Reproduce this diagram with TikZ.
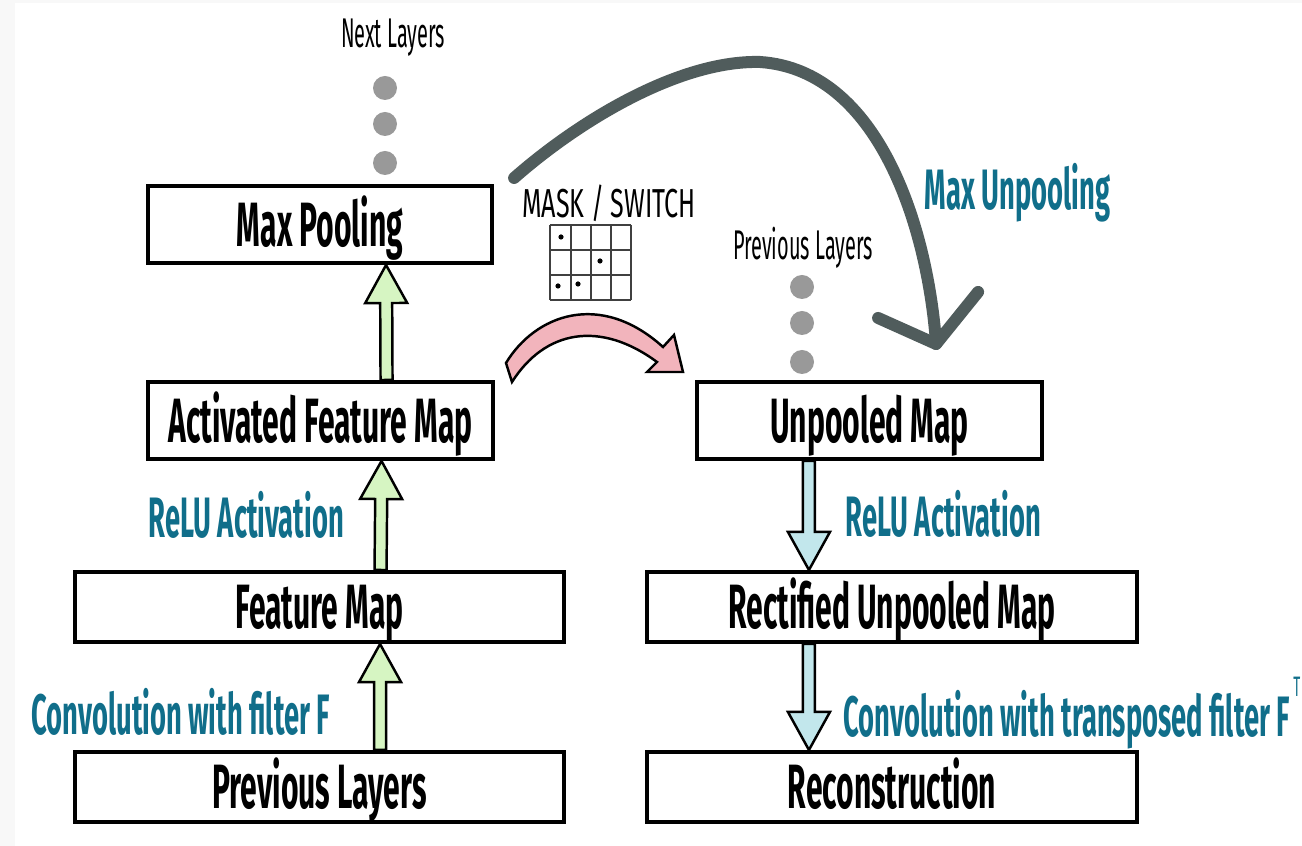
\documentclass[tikz,border=0pt]{standalone}
\usepackage{fontspec}
\setmainfont[FakeStretch=0.48]{Fira Sans}
\usetikzlibrary{calc}

\definecolor{labelteal}{RGB}{16,110,138}
\definecolor{upgreen}{RGB}{214,245,194}
\definecolor{downblue}{RGB}{194,231,236}
\definecolor{maskpink}{RGB}{242,180,188}
\definecolor{unpoolgray}{RGB}{80,92,92}
\definecolor{dotgray}{RGB}{153,153,153}
\definecolor{pagegray}{RGB}{248,248,248}

\tikzset{
  layerbox/.style={draw, line width=0.04cm, inner sep=0pt, text height=0.43cm, text depth=0pt,
    font=\fontsize{17.8}{18}\selectfont\bfseries},
  steplabel/.style={anchor=base west, inner sep=0pt, text=labelteal,
    font=\fontsize{16.2}{17}\selectfont\bfseries},
  smalllabel/.style={anchor=base, inner sep=0pt, font=\fontsize{11.8}{12}\selectfont},
  fatarrow/.style={draw, line width=0.7pt, line join=miter},
  maskgrid/.style={draw=black!75, line width=0.45pt},
}

% fat block arrow from #1 to #2, filled with #3
\newcommand{\fatarrow}[3]{%
  \draw[fatarrow, fill=#3] ($(#1)!0.06cm!90:(#2)$)
    -- ($(#2)!0.38cm!(#1)!0.06cm!-90:(#1)$)
    -- ($(#2)!0.38cm!(#1)!0.21cm!-90:(#1)$)
    -- (#2)
    -- ($(#2)!0.38cm!(#1)!0.21cm!90:(#1)$)
    -- ($(#2)!0.38cm!(#1)!0.06cm!90:(#1)$)
    -- ($(#1)!0.06cm!-90:(#2)$) -- cycle;}

\begin{document}
\begin{tikzpicture}[x=0.01cm, y=-0.01cm]
    \useasboundingbox (0,0) rectangle (1302,846);
    \fill[pagegray] (0,0) rectangle (1302,846);
    \fill[white] (15,3) rectangle (1302,846);

    % Forward pass (left column)
    \node[layerbox, minimum width=3.44cm, minimum height=0.77cm] (maxpool) at (320,224.5) {Max Pooling};
    \node[layerbox, minimum width=3.45cm, minimum height=0.77cm] (actmap) at (320.5,420.5) {Activated Feature Map};
    \node[layerbox, minimum width=4.89cm, minimum height=0.70cm] (featmap) at (319.5,607) {Feature Map};
    \node[layerbox, minimum width=4.89cm, minimum height=0.70cm] (prevleft) at (319.5,787) {Previous Layers};

    % Backward pass (right column)
    \node[layerbox, minimum width=3.45cm, minimum height=0.77cm] (unpool) at (869.5,420.5) {Unpooled Map};
    \node[layerbox, minimum width=4.90cm, minimum height=0.70cm] (rectmap) at (892,607) {Rectified Unpooled Map};
    \node[layerbox, minimum width=4.90cm, minimum height=0.70cm] (recon) at (892,787) {Reconstruction};

    % Step labels
    \node[steplabel] (relu1) at (148,538) {ReLU Activation};
    \node[steplabel] (conv1) at (31,735) {Convolution with filter F};
    \node[steplabel] (relu2) at (845,537) {ReLU Activation};
    \node[steplabel] (conv2) at (843,737) {Convolution with transposed filter F\kern1pt\raisebox{0.4cm}{\fontsize{8}{8}\selectfont\mdseries T}};
    \node[steplabel] (maxunpool) at (924,210) {Max Unpooling};

    % Layers above and below
    \node[smalllabel] (nextlayers) at (393,48) {Next Layers};
    \node[smalllabel] (prevlayers) at (803,260) {Previous Layers};
    \foreach \y in {88,124,163} \fill[dotgray] (385,\y) circle (12);
    \foreach \y in {287,323,362} \fill[dotgray] (802,\y) circle (12);

    % Switches of the pooling
    \node[smalllabel, font=\fontsize{11.5}{12}\selectfont\addfontfeature{FakeStretch=0.62}] (mask) at (609,218) {MASK / SWITCH};
    \foreach \gx in {550,571,591,611,631} \draw[maskgrid] (\gx,225) -- (\gx,300);
    \foreach \gy in {225,250,275,300} \draw[maskgrid] (550,\gy) -- (631,\gy);
    \foreach \p in {(561,237),(600,261),(558,286),(578,284)} \fill \p circle (2.6);

    % Block arrows
    \coordinate (up1a) at ([xshift=0.66cm]actmap.north);
    \coordinate (up1b) at ([xshift=0.66cm]maxpool.south);
    \coordinate (up2a) at ([xshift=0.61cm]featmap.north);
    \coordinate (up2b) at ([xshift=0.61cm]actmap.south);
    \coordinate (up3a) at ([xshift=0.605cm]prevleft.north);
    \coordinate (up3b) at ([xshift=0.605cm]featmap.south);
    \coordinate (dn1a) at ([xshift=-0.605cm]unpool.south);
    \coordinate (dn1b) at ([xshift=-0.83cm]rectmap.north);
    \coordinate (dn2a) at ([xshift=-0.83cm]rectmap.south);
    \coordinate (dn2b) at ([xshift=-0.83cm]recon.north);
    \fatarrow{up1a}{up1b}{upgreen}
    \fatarrow{up2a}{up2b}{upgreen}
    \fatarrow{up3a}{up3b}{upgreen}
    \fatarrow{dn1a}{dn1b}{downblue}
    \fatarrow{dn2a}{dn2b}{downblue}

    % Pink arrow: switches carried over
    \draw[fatarrow, fill=maskpink] (506,363) .. controls (535,315) and (600,290) .. (663,347)
      -- (674,335) -- (683,372) -- (647,372) -- (657,362)
      .. controls (600,320) and (545,330) .. (512,382) -- cycle;

    % Max unpooling arrow
    \coordinate (unpoolfrom) at ([shift={(20,-6)}]maxpool.north east);
    \coordinate (unpoolto) at ([shift={(-108,-36)}]unpool.north east);
    \draw[unpoolgray, line width=0.12cm, line cap=round, line join=round]
      (unpoolfrom) .. controls (580,120) and (680,60) .. (760,62)
      .. controls (880,70) and (928,230) .. (unpoolto);
    \draw[unpoolgray, line width=0.12cm, line cap=round, line join=round]
      ([shift={(-58,-26)}]unpoolto) -- (unpoolto) -- ([shift={(42,-52)}]unpoolto);
\end{tikzpicture}
\end{document}
